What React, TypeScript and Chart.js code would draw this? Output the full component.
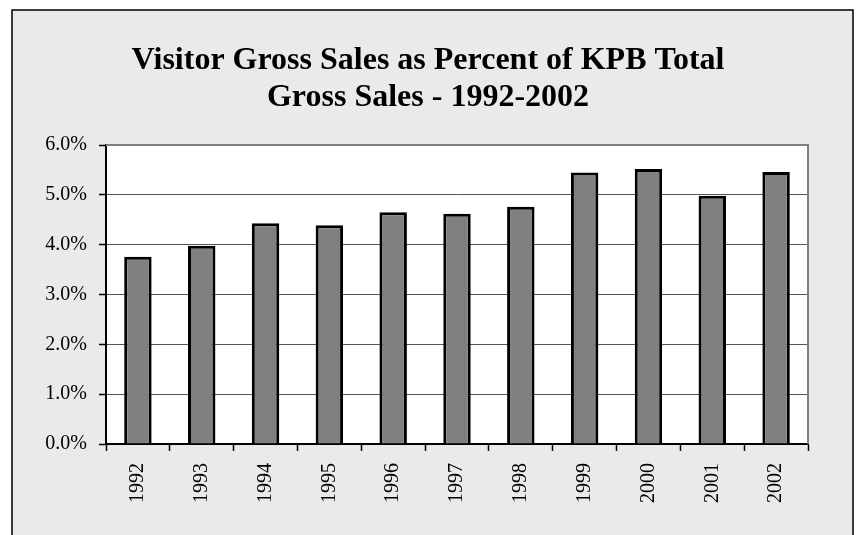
import React, { useEffect, useRef } from "react";
import { Chart, registerables } from "chart.js";

Chart.register(...registerables);

const categories = ["1992", "1993", "1994", "1995", "1996", "1997", "1998", "1999", "2000", "2001", "2002"];
const visitorShare = [3.76, 3.98, 4.43, 4.39, 4.65, 4.62, 4.76, 5.45, 5.52, 4.98, 5.46];
const titleLines = ["Visitor Gross Sales as Percent of KPB Total", "Gross Sales - 1992-2002"];

const FONT = "'Liberation Serif', 'Times New Roman', serif";

const framePlugin = {
  id: "frame",
  beforeDraw(chart: any) {
    const ctx = chart.ctx;
    ctx.save();
    ctx.fillStyle = "#ffffff";
    ctx.fillRect(0, 0, chart.width, chart.height);
    ctx.fillStyle = "#eaeaea";
    ctx.fillRect(12, 10, 841, 540);
    ctx.strokeStyle = "#000000";
    ctx.lineWidth = 1.5;
    ctx.strokeRect(12, 10, 841, 540);
    const a = chart.chartArea;
    ctx.fillStyle = "#ffffff";
    ctx.fillRect(a.left, a.top, a.right - a.left, a.bottom - a.top);
    // title
    ctx.fillStyle = "#000000";
    ctx.font = "bold 32px " + FONT;
    ctx.textAlign = "center";
    ctx.textBaseline = "alphabetic";
    ctx.fillText(titleLines[0], 428, 69);
    ctx.fillText(titleLines[1], 428, 106);
    ctx.restore();
  },
  afterDraw(chart: any) {
    const ctx = chart.ctx;
    const a = chart.chartArea;
    ctx.save();
    ctx.strokeStyle = "#808080";
    ctx.lineWidth = 2;
    ctx.beginPath();
    ctx.moveTo(a.left, a.top);
    ctx.lineTo(a.right, a.top);
    ctx.lineTo(a.right, a.bottom);
    ctx.stroke();
    ctx.restore();
  },
};

export default function App() {
  const ref = useRef<HTMLCanvasElement>(null);
  useEffect(() => {
    const chart = new Chart(ref.current!, {
      type: "bar",
      data: {
        labels: categories,
        datasets: [
          {
            data: visitorShare,
            backgroundColor: "#808080",
            borderColor: "#000000",
            borderWidth: 3,
            barPercentage: 0.43,
            categoryPercentage: 1,
          },
        ],
      },
      options: {
        animation: false,
        responsive: false,
        layout: { padding: { left: 0, right: 49, top: 145, bottom: 0 } },
        plugins: { legend: { display: false }, tooltip: { enabled: false }, title: { display: false } },
        scales: {
          x: {
            offset: true,
            grid: { offset: true, drawOnChartArea: false, tickLength: 7, tickColor: "#000000", tickWidth: 1.5 },
            border: { color: "#000000", width: 2 },
            ticks: {
              minRotation: 90,
              maxRotation: 90,
              padding: 12,
              color: "#000000",
              font: { family: FONT, size: 20 },
            },
            afterFit(scale: any) {
              scale.height = 91;
            },
          },
          y: {
            min: 0,
            max: 6,
            ticks: {
              stepSize: 1,
              padding: 12,
              color: "#000000",
              font: { family: FONT, size: 20 },
              callback: (v: any) => Number(v).toFixed(1) + "%",
            },
            grid: { color: "#555555", lineWidth: 1, tickLength: 7, tickColor: "#000000", tickWidth: 1.5 },
            border: { color: "#000000", width: 2 },
            afterFit(scale: any) {
              scale.width = 106;
            },
          },
        },
      },
      plugins: [framePlugin],
    });
    return () => chart.destroy();
  }, []);
  return (
    <div style={{ position: "fixed", left: 0, top: 0, width: 857, height: 535 }}>
      <canvas ref={ref} width={857} height={535} style={{ display: "block" }} />
    </div>
  );
}
